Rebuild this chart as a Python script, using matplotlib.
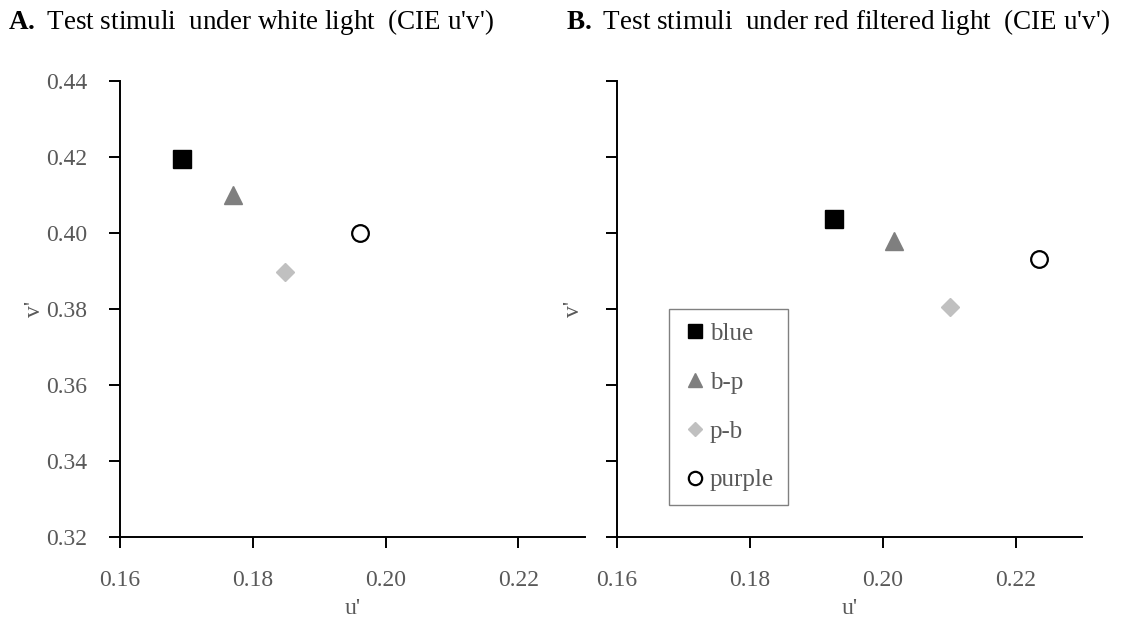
import matplotlib.pyplot as plt

plt.rcParams['font.family'] = ['Liberation Serif', 'DejaVu Serif']
plt.rcParams['mathtext.fontset'] = 'custom'
plt.rcParams['mathtext.rm'] = 'Liberation Serif'
plt.rcParams['mathtext.bf'] = 'Liberation Serif:bold'

# stimulus names and CIE u'v' coordinates
stimuli = ['blue', 'b-p', 'p-b', 'purple']
u_white = [0.1693, 0.1770, 0.1848, 0.1962]
v_white = [0.4195, 0.4100, 0.3897, 0.4000]
u_red = [0.1926, 0.2017, 0.2102, 0.2235]
v_red = [0.4037, 0.3979, 0.3805, 0.3932]

x_ticks = [0.16, 0.18, 0.20, 0.22]
y_ticks = [0.32, 0.34, 0.36, 0.38, 0.40, 0.42, 0.44]

styles = {
    'blue': dict(marker='s', color='black', markersize=13),
    'b-p': dict(marker='^', color='#7f7f7f', markersize=13),
    'p-b': dict(marker='D', color='#c0c0c0', markersize=9),
    'purple': dict(marker='o', markerfacecolor='white', markeredgecolor='black',
                   markeredgewidth=1.6, markersize=12),
}

grey = '#595959'

fig = plt.figure(figsize=(11.34, 6.28), dpi=100)
ax1 = fig.add_axes([0.1058, 0.1449, 0.410, 0.726])
ax2 = fig.add_axes([0.5441, 0.1449, 0.410, 0.726])

panels = [(ax1, u_white, v_white), (ax2, u_red, v_red)]
for ax, us, vs in panels:
    for name, u, v in zip(stimuli, us, vs):
        ax.plot([u], [v], linestyle='none', label=name, **styles[name])
    ax.set_xlim(0.16, 0.23)
    ax.set_ylim(0.32, 0.44)
    ax.set_xticks(x_ticks)
    ax.set_yticks(y_ticks)
    ax.set_xticklabels([f'{t:.2f}' for t in x_ticks])
    ax.set_yticklabels([f'{t:.2f}' for t in y_ticks])
    for s in ['top', 'right']:
        ax.spines[s].set_visible(False)
    for s in ['left', 'bottom']:
        ax.spines[s].set_linewidth(1.4)
    ax.tick_params(direction='out', length=8, width=1.4, labelsize=17,
                   labelcolor=grey)
    ax.tick_params(axis='x', pad=16)
    ax.tick_params(axis='y', pad=15.5)
    ax.set_xlabel("u'", fontsize=17, color=grey, labelpad=5)

ax1.set_ylabel("v'", fontsize=17, color=grey, labelpad=1)
# right panel keeps its ticks but shows no numbers
ax2.tick_params(axis='y', labelleft=False)
ax2.set_ylabel("v'", fontsize=17, color=grey, labelpad=16)

ax2.legend(loc='lower left', bbox_to_anchor=(0.111, 0.07), fontsize=18,
           frameon=True, fancybox=False, edgecolor='#808080', framealpha=1,
           labelspacing=1.05, handletextpad=0.1, handlelength=1.0,
           borderpad=0.55, labelcolor=grey, markerscale=0.8,
           borderaxespad=0)

fig.text(0.007, 0.965, r"$\mathbf{A.}$ Test stimuli  under white light  (CIE u'v')",
         fontsize=19.5, va='center', ha='left')
fig.text(0.499, 0.965, r"$\mathbf{B.}$ Test stimuli  under red filtered light  (CIE u'v')",
         fontsize=19.5, va='center', ha='left')

plt.savefig('out.png', dpi=100)
plt.close()
